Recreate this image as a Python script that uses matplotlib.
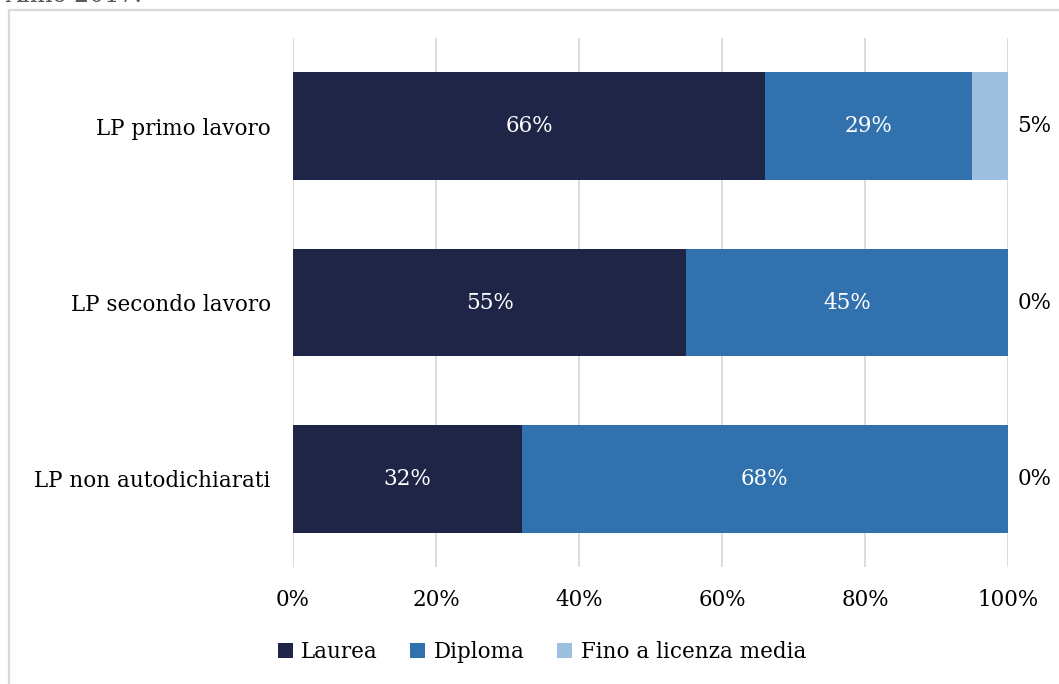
import matplotlib
matplotlib.use("Agg")
import matplotlib.pyplot as plt
from matplotlib.patches import Rectangle

categories = ["LP primo lavoro", "LP secondo lavoro", "LP non autodichiarati"]
series_names = ["Laurea", "Diploma", "Fino a licenza media"]
laurea = [66, 55, 32]
diploma = [29, 45, 68]
fino_media = [5, 0, 0]
x_ticks = [0, 20, 40, 60, 80, 100]
x_tick_labels = ["0%", "20%", "40%", "60%", "80%", "100%"]

colors = ["#1F2547", "#3172AE", "#9DC0E0"]

plt.rcParams["font.family"] = ["DejaVu Serif"]
FS = 15.5

W, H = 1059, 684
fig = plt.figure(figsize=(W / 100, H / 100), dpi=100)

# light frame around the chart area
fig.patches.append(Rectangle((9 / W, -0.05), 1.2, 1 - 10 / H + 0.05,
                             transform=fig.transFigure, fill=False,
                             edgecolor="#D9D9D9", linewidth=1.6))
fig.text(5 / W, 1 - 2 / H, "Anno 2017.", fontsize=17, color="#555555",
         ha="left", va="baseline")

ax = fig.add_axes([293 / W, 1 - 567 / H, (1008 - 293) / W, (567 - 38) / H])

y = list(range(len(categories)))
series = [laurea, diploma, fino_media]
left = [0] * len(categories)
bar_h = 0.61
for name, vals, col in zip(series_names, series, colors):
    ax.barh(y, vals, left=left, height=bar_h, color=col, label=name,
            edgecolor="none", zorder=3)
    left = [l + v for l, v in zip(left, vals)]

# labels for the two main segments, centred in white
for i in y:
    ax.text(laurea[i] / 2, i, f"{laurea[i]}%", ha="center", va="center",
            color="white", fontsize=FS, zorder=4)
    ax.text(laurea[i] + diploma[i] / 2, i, f"{diploma[i]}%", ha="center",
            va="center", color="white", fontsize=FS, zorder=4)
    ax.text(101.3, i, f"{fino_media[i]}%", ha="left", va="center",
            color="black", fontsize=FS, zorder=4)

ax.set_xlim(0, 100)
ax.set_ylim(2.5, -0.5)
ax.set_xticks(x_ticks)
ax.set_xticklabels(x_tick_labels, fontsize=FS)
ax.set_yticks(y)
ax.set_yticklabels(categories, fontsize=FS)
ax.tick_params(axis="both", length=0)
ax.tick_params(axis="x", pad=16)
ax.tick_params(axis="y", pad=16)
ax.grid(axis="x", color="#D9D9D9", linewidth=1.3, zorder=0)
for s in ax.spines.values():
    s.set_visible(False)

leg = fig.legend(loc="center", bbox_to_anchor=(542 / W, 1 - 652 / H),
                 ncol=3, frameon=False, fontsize=FS, handlelength=0.7,
                 handleheight=0.7, handletextpad=0.4, columnspacing=1.5)

fig.savefig("out.png", dpi=100)
